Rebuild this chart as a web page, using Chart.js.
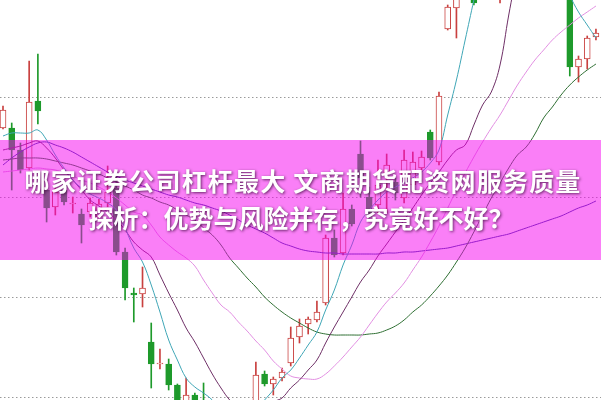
<!DOCTYPE html>
<html>
<head>
<meta charset="utf-8">
<script src="https://cdn.jsdelivr.net/npm/chart.js@4.4.1/dist/chart.umd.min.js"></script>
<style>
html, body { margin: 0; padding: 0; background: #fff; }
#wrap { width: 601px; height: 400px; }
</style>
</head>
<body>
<div id="wrap"><canvas id="kline" width="601" height="400"></canvas></div>
<script>
// Velas (precios)
const openP  = [12.69,12.69,12.47,12.29,12.96,12.07,11.90,12.07,11.93,11.83,11.85,11.80,11.94,12.09,11.45,11.04,11.03,10.55,10.33,10.33,10.12,9.87,10.02,9.95,9.77,9.57,9.42,9.47,9.57,9.87,10.23,10.13,10.19,10.34,10.60,10.73,10.77,10.94,11.59,11.44,11.88,12.43,12.00,11.92,12.24,12.15,11.99,12.12,12.29,12.65,12.35,13.68,13.89,14.17,14.37,14.02,14.47,14.27,14.57,15.07,15.27,15.07,14.87,15.17,14.97,14.37,13.30,13.38,13.60];
const highP  = [12.91,12.74,12.54,13.36,13.43,12.17,12.09,12.10,12.00,11.88,11.99,11.98,12.31,12.20,11.49,11.09,11.30,10.74,10.48,10.38,10.13,10.19,10.04,10.14,9.82,9.67,9.52,9.62,9.77,10.35,10.26,10.20,10.29,10.70,10.78,10.80,10.96,11.62,11.67,12.04,11.92,12.56,12.10,12.37,12.43,12.19,12.47,12.45,12.46,12.67,13.05,13.92,14.27,14.67,14.47,14.57,15.07,14.67,15.17,15.47,15.57,15.37,15.27,15.47,15.27,14.47,13.41,13.61,13.68];
const lowP   = [12.68,12.07,12.24,12.27,12.73,11.75,11.82,11.92,11.84,11.54,11.80,11.79,11.90,11.42,10.97,10.75,10.90,10.09,10.28,10.07,9.82,9.82,9.82,9.72,9.47,9.27,9.17,9.32,9.47,9.85,10.11,10.02,10.16,10.31,10.54,10.63,10.75,10.92,11.40,11.42,11.71,12.00,11.79,11.84,11.84,11.97,11.94,12.05,12.25,12.37,12.32,13.67,13.59,14.12,13.92,14.00,14.42,13.94,14.47,14.87,14.97,14.77,14.67,14.87,14.57,13.21,13.15,13.28,13.57];
const closeP = [12.87,12.47,12.27,12.95,12.86,11.89,12.05,11.95,11.94,11.72,11.94,11.93,12.05,11.45,11.09,11.02,11.09,10.33,10.34,10.12,9.87,10.02,9.87,9.77,9.57,9.42,9.47,9.57,9.72,10.22,10.13,10.18,10.25,10.59,10.71,10.78,10.85,11.59,11.42,11.88,11.73,12.19,11.80,12.12,12.32,12.04,12.37,12.35,12.40,12.39,13.01,13.90,14.22,14.57,13.94,14.47,14.97,14.57,15.07,15.27,15.07,14.87,15.17,14.97,14.67,13.30,13.38,13.59,13.64];

// Medias móviles
const ma5  = [12.61,12.64,12.64,12.64,12.67,12.57,12.42,12.29,12.17,12.09,12.03,11.99,11.94,11.87,11.69,11.49,11.35,11.12,10.85,10.57,10.37,10.19,10.10,10.04,9.97,9.87,9.79,9.77,9.79,9.87,9.97,10.07,10.19,10.27,10.39,10.52,10.65,10.87,11.07,11.32,11.52,11.75,11.87,11.97,12.05,12.10,12.14,12.19,12.25,12.34,12.47,12.82,13.17,13.57,13.97,14.37,14.77,15.07,15.27,15.47,15.47,15.37,15.17,14.97,14.27,14.02,13.85,13.72,13.59];
const ma10 = [12.47,12.49,12.51,12.54,12.56,12.49,12.39,12.27,12.17,12.07,11.97,11.91,11.85,11.77,11.67,11.55,11.47,11.40,11.22,11.04,10.87,10.69,10.55,10.39,10.23,10.09,9.97,9.89,9.84,9.83,9.87,9.95,9.99,10.09,10.17,10.27,10.37,10.54,10.70,10.85,11.00,11.15,11.27,11.41,11.53,11.65,11.77,11.89,12.02,12.14,12.25,12.37,12.47,12.52,12.72,12.92,13.05,13.32,13.82,14.27,14.67,15.07,15.27,15.37,15.37,15.27,15.07,14.97,14.87];
const ma20 = [12.25,12.26,12.27,12.28,12.29,12.28,12.27,12.24,12.21,12.17,12.14,12.10,12.05,11.99,11.92,11.85,11.82,11.72,11.60,11.52,11.45,11.39,11.31,11.17,11.04,10.92,10.85,10.75,10.66,10.56,10.47,10.36,10.28,10.21,10.19,10.18,10.18,10.23,10.31,10.40,10.50,10.60,10.72,10.84,10.95,11.04,11.14,11.27,11.40,11.55,11.71,11.89,12.07,12.24,12.40,12.55,12.69,12.82,12.97,13.12,13.25,13.37,13.47,13.57,13.65,13.72,13.79,13.85,13.91];
const ma30 = [12.37,12.38,12.39,12.39,12.39,12.38,12.36,12.34,12.32,12.29,12.26,12.23,12.19,12.15,12.11,12.07,12.02,11.99,11.95,11.92,11.87,11.82,11.77,11.69,11.62,11.52,11.39,11.29,11.19,11.10,11.00,10.92,10.85,10.79,10.74,10.69,10.65,10.63,10.62,10.62,10.62,10.62,10.63,10.64,10.67,10.71,10.77,10.85,10.92,11.01,11.11,11.22,11.35,11.49,11.65,11.82,11.99,12.14,12.29,12.42,12.50,12.63,12.79,12.90,13.02,13.12,13.20,13.27,13.33];
const ma60 = [12.32,12.39,12.45,12.50,12.54,12.55,12.52,12.49,12.45,12.40,12.35,12.30,12.25,12.21,12.17,12.14,12.11,12.08,12.05,12.02,12.00,11.97,11.94,11.92,11.89,11.86,11.82,11.77,11.72,11.68,11.64,11.59,11.54,11.51,11.48,11.46,11.45,11.44,11.44,11.43,11.43,11.43,11.43,11.43,11.44,11.44,11.45,11.45,11.46,11.47,11.48,11.49,11.51,11.53,11.55,11.57,11.59,11.61,11.63,11.66,11.69,11.72,11.75,11.78,11.81,11.85,11.89,11.92,11.96];

// Líneas de la cuadrícula
const gridTicks = [10, 11, 12, 13];

const titleLines = ['哪家证券公司杠杆最大 文商期货配资网服务质量', '探析：优势与风险并存，究竟好不好？'];

const upColor = '#c9403f';
const downColor = '#1e9a2b';
const isUp = closeP.map((c, i) => c >= openP[i]);
const candleColor = isUp.map(u => u ? upColor : downColor);

function maLine(values, color) {
    return {
        type: 'line',
        data: values.map((v, i) => ({ x: i, y: v })),
        borderColor: color,
        borderWidth: 1,
        pointRadius: 0,
        tension: 0.4,
        order: 1
    };
}

// Banda rosa con el título encima
const bannerPlugin = {
    id: 'banner',
    afterDraw(chart) {
        const ctx = chart.ctx;
        ctx.save();
        ctx.fillStyle = 'rgba(245, 0, 240, 0.5)';
        ctx.fillRect(0, 140, chart.width, 120);
        ctx.font = 'bold 25px "Noto Sans CJK SC"';
        ctx.textAlign = 'center';
        ctx.textBaseline = 'middle';
        ctx.shadowColor = 'rgba(50, 0, 50, 0.75)';
        ctx.shadowBlur = 3;
        ctx.shadowOffsetX = 1;
        ctx.shadowOffsetY = 1;
        ctx.fillStyle = '#ffffff';
        ctx.letterSpacing = '1.2px';
        ctx.fillText(titleLines[0], 303, 181);
        ctx.letterSpacing = '0px';
        ctx.fillText(titleLines[1], 301, 218);
        ctx.restore();
    }
};

new Chart(document.getElementById('kline'), {
    type: 'bar',
    data: {
        datasets: [
            {
                // mechas
                data: lowP.map((l, i) => ({ x: i, y: [l, highP[i]] })),
                backgroundColor: candleColor,
                borderWidth: 0,
                barThickness: 1,
                grouped: false,
                order: 3
            },
            {
                // cuerpos
                data: openP.map((o, i) => ({ x: i, y: [o, closeP[i]] })),
                backgroundColor: isUp.map(u => u ? '#ffffff' : downColor),
                borderColor: candleColor,
                borderWidth: 1,
                borderSkipped: false,
                barThickness: 6,
                grouped: false,
                order: 2
            },
            maLine(ma5, '#3fa6b6'),
            maLine(ma10, '#6e2f66'),
            maLine(ma20, '#e28fe2'),
            maLine(ma30, '#2f6f33'),
            maLine(ma60, '#3d35a8')
        ]
    },
    options: {
        responsive: false,
        animation: false,
        layout: { padding: 0 },
        plugins: {
            legend: { display: false },
            tooltip: { enabled: false }
        },
        scales: {
            x: {
                type: 'linear',
                display: false,
                min: -0.344,
                max: 68.58,
                offset: false
            },
            y: {
                min: 9.97,
                max: 13.97,
                afterBuildTicks: (scale) => {
                    scale.ticks = gridTicks.map(v => ({ value: v }));
                },
                ticks: { display: false },
                grid: { color: '#9a9a9a', drawTicks: false, lineWidth: 1 },
                border: { display: false, dash: [1.5, 2.5] }
            }
        }
    },
    plugins: [bannerPlugin]
});
</script>
</body>
</html>
